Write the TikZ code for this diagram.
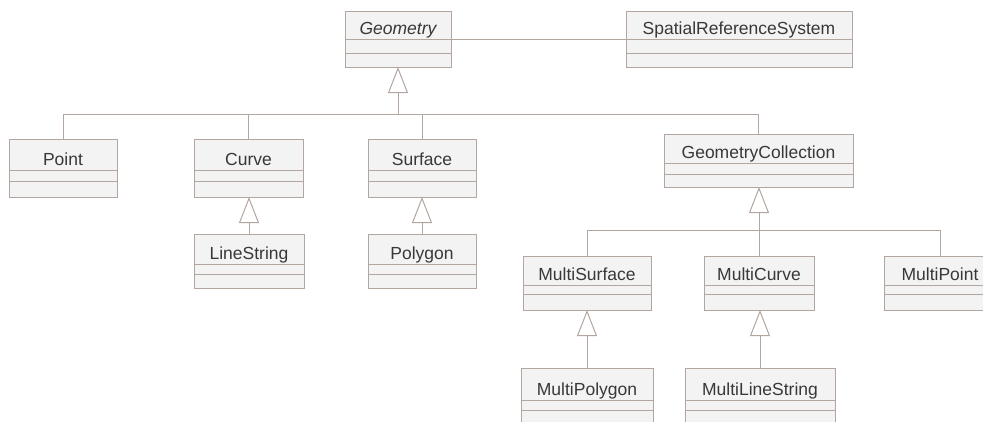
\documentclass[tikz,border=0pt]{standalone}
\usepackage{fontspec}
\setmainfont{Liberation Sans}
\usetikzlibrary{arrows.meta,fit}

\definecolor{linec}{HTML}{B3A5A0}
\definecolor{boxc}{HTML}{F3F3F3}
\definecolor{textc}{HTML}{383838}

\tikzset{
  classbox/.style={draw=linec, fill=boxc, line width=1pt, inner sep=0pt, outer sep=0pt},
  classline/.style={draw=linec, line width=1pt},
  classname/.style={text=textc, inner sep=0pt, font=\fontsize{17.5}{20}\selectfont},
  conn/.style={draw=linec, line width=1pt},
  gen/.style={conn, -{Triangle[length=26pt, width=20pt, fill=white, line width=1pt]}},
}

% #1 node name, #2 x1, #3 y1, #4 x2, #5 y2, #6/#7 compartment separators, #8 label
\newcommand\umlclass[8]{%
  \node[classbox, fit={(#2,#3) (#4,#5)}] (#1) {};
  \draw[classline] (#2,#6) -- (#4,#6) (#2,#7) -- (#4,#7);
  \node[classname, anchor=base] at ({(#2+#4)/2},{#6-4.5}) {#8};
}

\begin{document}
\begin{tikzpicture}[x=1pt, y=-1pt]
  \useasboundingbox (0,0) rectangle (983,421);
  \fill[white] (0,0) rectangle (983,421);
  \clip (0,0) rectangle (983,421);

  % top row
  \umlclass{geometry}{345}{11}{451}{67}{39}{53}{\itshape Geometry}
  \umlclass{srs}{626}{11}{852}{67}{39}{53}{SpatialReferenceSystem}

  % direct subclasses of Geometry
  \umlclass{point}{9}{139}{117}{197}{170}{181}{Point}
  \umlclass{curve}{194}{139}{303}{197}{170}{181}{Curve}
  \umlclass{surface}{368}{139}{476}{197}{170}{181}{Surface}
  \umlclass{gcoll}{664}{134}{853}{187}{163}{174}{GeometryCollection}

  % second level
  \umlclass{linestring}{194}{234}{304}{288}{264}{274}{LineString}
  \umlclass{polygon}{368}{234}{476}{288}{264}{274}{Polygon}
  \umlclass{msurface}{523}{256}{651}{310}{285}{294}{MultiSurface}
  \umlclass{mcurve}{704}{256}{814}{310}{285}{294}{MultiCurve}
  \umlclass{mpoint}{884}{256}{996}{310}{285}{294}{MultiPoint}

  % third level
  \umlclass{mpolygon}{521}{368}{653}{430}{400}{410}{MultiPolygon}
  \umlclass{mlinestring}{685}{368}{835}{430}{400}{410}{MultiLineString}

  % association
  \draw[conn] (geometry.east) -- (srs.west);

  % generalization of Geometry
  \coordinate (gbus) at (398,114);
  \draw[gen] (gbus) -- (geometry.south);
  \draw[conn] (point.north) |- (gbus);
  \draw[conn] (curve.north) |- (gbus);
  \draw[conn] (surface.north) |- (gbus);
  \draw[conn] (gcoll.north) |- (gbus);

  % generalization of GeometryCollection
  \coordinate (cbus) at (759,230);
  \draw[gen] (cbus) -- (cbus |- gcoll.south);
  \draw[conn] (msurface.north) |- (cbus);
  \draw[conn] (mcurve.north) |- (cbus);
  \draw[conn] (mpoint.north) |- (cbus);

  % single-parent generalizations
  \draw[gen] (linestring.north) -- (linestring.north |- curve.south);
  \draw[gen] (polygon.north) -- (polygon.north |- surface.south);
  \draw[gen] (mpolygon.north) -- (mpolygon.north |- msurface.south);
  \draw[gen] (mlinestring.north) -- (mlinestring.north |- mcurve.south);
\end{tikzpicture}
\end{document}
